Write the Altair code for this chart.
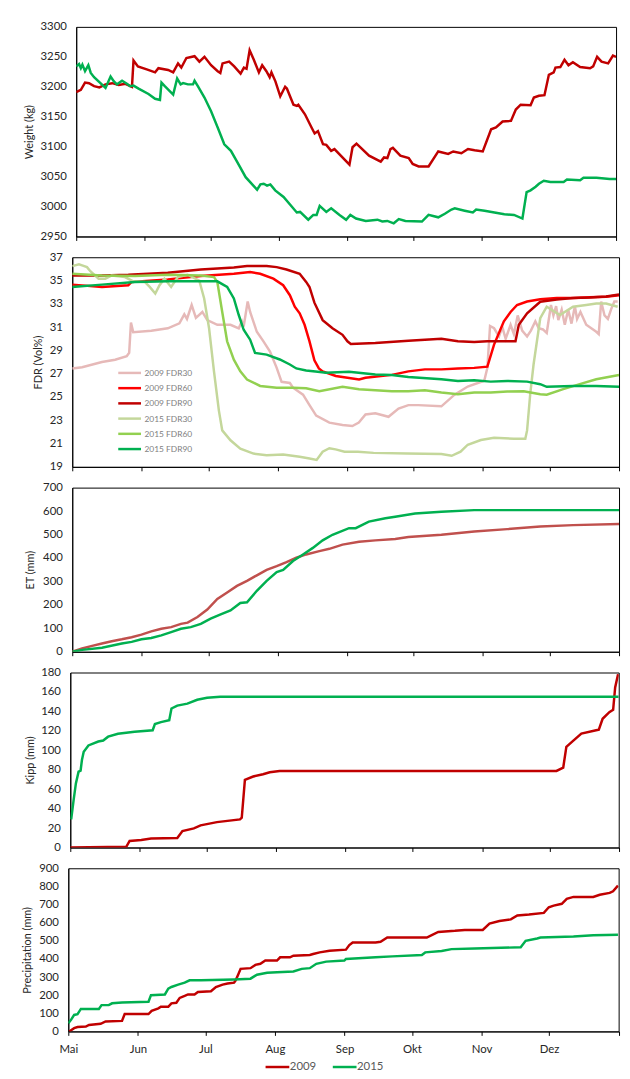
import altair as alt
import pandas as pd

# ---------------- axis categories ----------------
MONTHS = ["Mai", "Jun", "Jul", "Aug", "Sep", "Okt", "Nov", "Dez"]
MONTH_START = [0, 31, 61, 92, 123, 153, 184, 214]   # day offset from 1 May
SEASON_DAYS = 245

# ---------------- Weight (kg) ----------------
weight_2009 = [(0, 3191), (2.1, 3195), (4.0, 3207), (5.8, 3206), (8.1, 3201), (10.5, 3199), (13.3, 3204),
               (16.3, 3206), (19.3, 3203), (22.3, 3205), (25.3, 3200), (26.0, 3244), (28.0, 3234), (32.0, 3229),
               (35.8, 3224), (37.3, 3231), (41.7, 3228), (44.0, 3224), (46.2, 3239), (47.7, 3232), (50.0, 3248),
               (53.7, 3251), (55.9, 3242), (58.2, 3250), (61.2, 3236), (64.2, 3226), (65.4, 3223), (66.4, 3239),
               (69.4, 3242), (71.7, 3234), (74.6, 3222), (76.1, 3232), (77.3, 3230), (78.7, 3261), (80.6, 3245),
               (82.9, 3224), (84.4, 3236), (86.3, 3226), (87.8, 3216), (88.6, 3224), (90.4, 3209), (92.6, 3184),
               (94.8, 3200), (95.6, 3197), (98.6, 3170), (100.1, 3168), (100.8, 3170), (103.8, 3154), (106.8, 3132),
               (108.2, 3122), (109.7, 3126), (112.0, 3104), (113.5, 3103), (115.7, 3093), (117.2, 3096), (124.0, 3070),
               (125.4, 3099), (127.2, 3105), (132.9, 3085), (138.2, 3075), (139.7, 3082), (141.2, 3081), (142.6, 3096),
               (143.7, 3098), (147.1, 3085), (150.9, 3081), (152.7, 3071), (155.4, 3067), (159.9, 3067), (164.3, 3092),
               (168.8, 3088), (171.1, 3092), (174.8, 3089), (177.8, 3096), (180.8, 3094), (184.5, 3092), (188.3, 3129),
               (190.5, 3132), (193.5, 3142), (197.3, 3143), (199.5, 3162), (201.7, 3170), (206.2, 3169), (207.7, 3182),
               (210.0, 3185), (212.5, 3186), (214.5, 3220), (216.7, 3224), (217.5, 3232), (219.7, 3233), (221.6, 3245),
               (223.4, 3236), (225.4, 3241), (228.7, 3233), (233.2, 3231), (234.6, 3234), (236.4, 3250), (238.4, 3242),
               (241.4, 3239), (243.6, 3252), (245.0, 3250)]
weight_2015 = [(0, 3234), (1.3, 3238), (2.1, 3231), (2.8, 3237), (4.0, 3226), (5.5, 3236), (6.6, 3223), (8.1, 3216),
               (13.3, 3198), (15.6, 3217), (17.1, 3209), (18.5, 3204), (20.8, 3210), (23.0, 3205), (24.5, 3201),
               (26.0, 3202), (28.3, 3197), (32.8, 3188), (35.8, 3180), (38.0, 3178), (38.7, 3207), (40.2, 3201),
               (44.0, 3187), (45.8, 3214), (47.4, 3204), (48.5, 3206), (50.7, 3204), (53.0, 3204), (53.7, 3210),
               (55.2, 3201), (58.2, 3182), (61.2, 3159), (64.2, 3132), (67.2, 3104), (70.2, 3093), (73.1, 3074),
               (76.9, 3049), (80.6, 3034), (82.1, 3028), (83.6, 3037), (85.1, 3038), (86.6, 3035), (88.1, 3037),
               (90.3, 3027), (94.1, 3016), (97.8, 3000), (100.1, 2990), (101.6, 2991), (105.3, 2978), (107.6, 2986),
               (109.1, 2986), (110.5, 3001), (113.5, 2991), (115.7, 2997), (119.5, 2986), (122.5, 2978), (124.4, 2986),
               (127.0, 2980), (131.4, 2976), (136.7, 2978), (138.9, 2975), (141.2, 2976), (144.1, 2972), (146.4, 2979),
               (149.4, 2976), (156.9, 2975), (159.9, 2986), (164.3, 2982), (167.3, 2988), (170.3, 2995), (171.8, 2997),
               (176.3, 2993), (180.0, 2990), (181.5, 2995), (185.3, 2993), (189.8, 2990), (194.3, 2987), (198.7, 2986),
               (202.5, 2980), (204.4, 3024), (206.2, 3027), (208.5, 3033), (210.0, 3038), (212.2, 3043), (215.2, 3041),
               (221.2, 3041), (222.7, 3045), (228.7, 3044), (230.2, 3048), (236.1, 3048), (242.1, 3046), (245.0, 3046)]

# ---------------- FDR (Vol%) ----------------
fdr_2009_30 = [(0, 27.45), (4.4, 27.56), (13.3, 28.0), (19.2, 28.2), (24.4, 28.5), (25.5, 28.8), (26.3, 31.4),
               (27.3, 30.57), (35.4, 30.68), (42.8, 30.9), (48.0, 31.33), (50.2, 32.1), (51.4, 31.7), (53.5, 32.9),
               (55.4, 31.8), (58.3, 32.3), (60.5, 31.6), (65.0, 31.2), (70.9, 31.2), (74.6, 30.9), (76.0, 31.5),
               (76.8, 31.05), (78.6, 33.2), (79.7, 32.3), (82.7, 30.6), (85.6, 29.8), (88.6, 28.9), (91.6, 27.5),
               (93.8, 26.3), (97.5, 26.2), (98.9, 25.8), (103.4, 25.2), (106.3, 24.3), (109.3, 23.4), (115.2, 22.8),
               (121.1, 22.6), (125.5, 22.5), (128.4, 22.8), (131.4, 23.5), (135.8, 23.6), (141.7, 23.3), (146.2, 24.0),
               (150.6, 24.3), (155.0, 24.3), (165.4, 24.2), (171.3, 25.2), (177.2, 25.9), (184.6, 26.4), (186.0, 27.5),
               (187.2, 31.1), (189.0, 30.9), (191.2, 30.2), (192.7, 31.0), (194.2, 30.0), (196.4, 31.2), (197.9, 30.4),
               (199.6, 32.0), (201.6, 30.7), (203.8, 30.2), (205.5, 30.7), (207.5, 31.5), (209.0, 30.9), (210.9, 30.8),
               (212.6, 30.5), (214.5, 32.9), (215.6, 32.0), (216.8, 32.8), (217.8, 31.6), (219.3, 32.5), (220.7, 31.2),
               (222.2, 32.5), (223.7, 31.3), (225.2, 32.8), (226.2, 31.7), (227.7, 32.3), (230.3, 31.2), (234.8, 30.6),
               (235.9, 30.4), (237.0, 33.2), (238.5, 32.0), (240.0, 31.7), (241.4, 32.5), (242.9, 33.2), (244.4, 33.2)]
fdr_2009_60 = [(0, 34.65), (13.3, 34.45), (25.1, 34.6), (26.6, 34.88), (42.8, 35.1), (57.6, 35.39), (72.4, 35.58),
               (79.7, 35.73), (84.2, 35.58), (90.1, 35.16), (94.5, 34.6), (97.5, 33.74), (99.7, 32.75), (101.9, 32.18),
               (104.1, 31.2), (106.3, 29.78), (108.5, 28.15), (110.5, 27.45), (112.2, 27.2), (118.1, 26.8),
               (128.5, 26.5), (131.4, 26.65), (143.2, 26.9), (150.6, 27.2), (158.0, 27.37), (165.4, 27.37),
               (172.8, 27.45), (180.1, 27.5), (186.0, 27.6), (189.0, 29.5), (193.4, 31.5), (196.4, 32.3), (199.3, 32.9),
               (203.8, 33.2), (209.7, 33.4), (217.1, 33.5), (224.4, 33.5), (231.8, 33.57), (239.2, 33.6), (245.0, 33.74)]
fdr_2009_90 = [(0, 35.44), (13.3, 35.44), (25.1, 35.5), (42.8, 35.67), (57.6, 35.95), (72.4, 36.12), (78.3, 36.24),
               (87.1, 36.24), (91.6, 36.15), (96.0, 35.95), (101.9, 35.58), (104.8, 34.88), (106.3, 34.45),
               (108.5, 33.1), (112.2, 31.6), (116.6, 30.9), (121.1, 30.34), (123.3, 29.78), (124.8, 29.55),
               (135.8, 29.64), (150.6, 29.83), (165.4, 30.0), (172.8, 29.78), (180.1, 29.72), (186.0, 29.78),
               (198.6, 29.78), (200.1, 31.2), (203.8, 32.18), (209.7, 33.18), (217.1, 33.37), (224.4, 33.5),
               (231.8, 33.54), (239.2, 33.63), (245.0, 33.8)]
fdr_2015_30 = [(0, 36.24), (3.0, 36.4), (4.4, 36.3), (6.6, 36.15), (8.1, 35.8), (11.8, 35.16), (14.8, 35.16),
               (17.7, 35.44), (23.6, 35.3), (27.3, 34.93), (32.5, 34.88), (34.7, 34.45), (37.2, 33.88), (39.1, 34.6),
               (41.3, 35.16), (44.3, 34.45), (47.3, 35.3), (51.7, 35.5), (56.9, 35.0), (59.1, 33.46), (61.3, 30.9),
               (63.5, 27.2), (65.7, 23.83), (67.2, 22.13), (70.9, 21.28), (75.3, 20.57), (81.2, 20.14), (87.1, 20.0),
               (94.5, 20.06), (101.9, 19.86), (106.3, 19.72), (109.5, 19.6), (112.2, 20.3), (115.2, 20.6),
               (118.0, 20.5), (122.0, 20.3), (128.0, 20.3), (135.0, 20.2), (150.0, 20.15), (165.4, 20.1),
               (170.0, 19.95), (174.0, 20.3), (177.2, 20.9), (183.1, 21.3), (189.0, 21.5), (197.9, 21.42),
               (203.0, 21.42), (203.8, 22.13), (205.2, 25.24), (206.7, 27.79), (209.7, 31.76), (212.6, 32.75),
               (218.5, 32.04), (224.4, 32.75), (230.3, 32.9), (234.8, 33.03), (239.2, 33.03), (244.4, 32.75)]
fdr_2015_60 = [(0, 35.58), (13.3, 35.44), (28.1, 35.39), (42.8, 35.5), (57.6, 35.44), (63.5, 35.3), (65.0, 34.88),
               (67.2, 32.3), (69.4, 29.78), (72.4, 28.2), (75.3, 27.2), (78.3, 26.5), (84.2, 25.95), (91.6, 25.8),
               (98.9, 25.8), (104.8, 25.75), (110.7, 25.5), (121.1, 25.87), (128.5, 25.67), (135.8, 25.58),
               (143.2, 25.5), (150.6, 25.5), (158.0, 25.58), (165.4, 25.38), (172.8, 25.24), (180.1, 25.38),
               (187.5, 25.38), (194.9, 25.47), (202.3, 25.5), (209.7, 25.24), (212.6, 25.19), (220.0, 25.67),
               (227.4, 26.1), (234.8, 26.52), (245.0, 26.89)]
fdr_2015_90 = [(0, 34.45), (13.3, 34.65), (28.1, 34.88), (42.8, 34.93), (57.6, 34.93), (65.0, 34.93), (69.4, 34.45),
               (72.4, 33.46), (74.6, 32.04), (76.8, 30.77), (79.7, 29.92), (81.9, 28.78), (87.1, 28.64), (93.0, 28.22),
               (97.5, 27.79), (100.4, 27.45), (104.8, 27.28), (110.0, 27.17), (113.7, 27.08), (124.0, 27.17),
               (135.8, 26.94), (143.2, 26.89), (150.6, 26.72), (165.4, 26.52), (172.8, 26.38), (180.1, 26.43),
               (187.5, 26.32), (194.9, 26.38), (203.8, 26.32), (209.7, 26.1), (212.6, 25.87), (224.4, 25.95),
               (234.8, 25.95), (245.0, 25.87)]

# ---------------- ET (mm) ----------------
et_2009 = [(0, 0), (4.4, 14), (8.9, 25), (13.3, 35), (17.7, 45), (22.2, 53), (26.6, 62), (31.0, 73), (35.4, 87),
           (39.9, 98), (44.3, 105), (48.7, 119), (51.7, 124), (56.1, 148), (60.5, 180), (65.0, 225), (69.4, 253),
           (73.8, 281), (78.3, 302), (82.7, 326), (87.1, 349), (91.6, 365), (96.0, 382), (100.4, 401), (104.8, 415),
           (110.7, 429), (115.2, 439), (121.1, 457), (128.5, 469), (135.8, 475), (144.7, 481), (150.6, 489),
           (165.4, 499), (180.1, 513), (194.9, 523), (209.7, 534), (224.4, 540), (245.0, 545)]
et_2015 = [(0, 0), (4.4, 8), (13.3, 17), (22.2, 35), (26.6, 42), (31.0, 53), (35.4, 59), (39.9, 70), (44.3, 84),
           (48.7, 98), (53.1, 105), (57.6, 119), (62.0, 141), (66.5, 159), (70.9, 176), (75.3, 208), (78.3, 211),
           (82.7, 260), (87.1, 302), (91.6, 340), (94.5, 349), (98.9, 387), (103.4, 415), (107.8, 443), (112.2, 475),
           (116.6, 499), (124.0, 527), (127.0, 527), (132.9, 555), (140.3, 569), (144.7, 576), (153.6, 590),
           (165.4, 597), (180.1, 604), (245.0, 604)]

# ---------------- Kipp (mm) ----------------
kipp_2009 = [(0, 0), (25.0, 0.7), (26.5, 6.8), (31.7, 7.8), (36.1, 9.2), (47.8, 9.8), (50.1, 17), (55.2, 19.7),
             (58.2, 22.8), (65.5, 26.1), (75.8, 28.9), (76.6, 30.6), (78.0, 69.6), (81.7, 73), (86.1, 75.4),
             (89.1, 77.4), (93.5, 78.8), (217.2, 78.8), (220.2, 82.2), (221.6, 103.6), (224.6, 109.7), (228.3, 117.2),
             (234.9, 120.6), (236.1, 121.2), (237.8, 132.4), (240.8, 139.2), (242.5, 141.6), (243.4, 164.7),
             (244.7, 178.3)]
kipp_2015 = [(0.4, 28.9), (1.5, 49), (2.5, 66), (3.7, 78), (4.6, 79), (5.2, 90), (6.0, 98.5), (8.1, 105), (12.5, 109),
             (14.7, 110), (16.9, 114), (21.3, 117), (28.7, 119), (36.8, 120.6), (37.8, 127), (40.5, 129), (44.2, 131),
             (45.2, 143), (47.8, 146), (52.3, 148), (56.7, 152), (61.1, 154), (67.0, 155), (245.0, 155)]

# ---------------- Precipitation (mm) ----------------
prec_2009 = [(0.4, 0), (2.6, 18), (4.1, 24), (7.8, 27), (9.2, 36), (14.4, 42), (16.6, 55), (23.9, 58), (25.1, 96),
             (35.7, 96), (37.1, 113), (40.1, 127), (41.2, 136), (44.5, 136), (45.9, 155), (48.1, 158), (49.6, 185),
             (51.8, 196), (53.3, 204), (56.2, 204), (57.7, 218), (63.5, 222), (65.7, 245), (68.7, 258), (70.9, 264),
             (73.8, 269), (74.5, 282), (75.6, 313), (76.7, 345), (81.1, 349), (83.3, 367), (85.5, 373), (87.7, 391),
             (92.9, 391), (94.3, 409), (98.7, 409), (100.2, 418), (107.5, 422), (109.0, 427), (111.9, 436),
             (116.3, 445), (123.6, 451), (125.1, 476), (126.6, 491), (136.8, 491), (139.0, 495), (142.0, 518),
             (159.6, 518), (161.8, 531), (164.7, 549), (172.1, 555), (176.5, 560), (184.5, 560), (187.5, 595),
             (191.9, 609), (197.0, 618), (199.9, 640), (205.1, 645), (211.7, 654), (213.9, 685), (216.1, 694),
             (219.7, 704), (221.9, 731), (224.9, 742), (233.7, 742), (236.6, 754), (241.0, 764), (242.5, 773),
             (244.7, 804)]
prec_2015 = [(0, 45), (1.2, 64), (2.6, 91), (4.1, 95), (5.6, 124), (13.6, 124), (14.8, 145), (18.0, 145), (19.5, 155),
             (23.9, 160), (35.7, 164), (36.8, 200), (43.0, 204), (44.5, 236), (45.9, 245), (48.9, 258), (51.8, 269),
             (54.0, 282), (59.1, 282), (73.8, 287), (81.1, 291), (84.0, 313), (88.5, 324), (92.9, 327), (100.2, 331),
             (103.9, 345), (107.5, 349), (110.4, 373), (114.8, 385), (122.9, 391), (123.6, 400), (136.8, 409),
             (144.2, 414), (157.4, 422), (158.9, 436), (166.2, 444), (170.6, 454), (180.9, 458), (201.4, 464),
             (203.6, 500), (208.7, 513), (210.2, 518), (224.9, 524), (233.7, 531), (244.7, 533)]

YEARS = ["2009", "2015"]
FDR_NAMES = ["2009 FDR30", "2009 FDR60", "2009 FDR90", "2015 FDR30", "2015 FDR60", "2015 FDR90"]

YEAR_COLORS = ["#C00000", "#00B050"]
ET_COLORS = ["#C0504D", "#00B050"]
FDR_COLORS = ["#E6B9B8", "#FF0000", "#C00000", "#C4D79B", "#92D050", "#00B050"]

FONT = "Lato"
TXT = "#262626"


def frame(series_list, names):
    rows = []
    for name, pairs in zip(names, series_list):
        for d, v in pairs:
            rows.append({"day": d, "value": v, "series": name})
    return pd.DataFrame(rows)


starts_js = "[" + ",".join(str(s) for s in MONTH_START) + "]"
names_js = "[" + ",".join("'" + m + "'" for m in MONTHS) + "]"
label_expr = (f"indexof({starts_js}, datum.value) >= 0 ? "
              f"{names_js}[indexof({starts_js}, datum.value)] : ''")


def x_enc(show_labels):
    return alt.X(
        "day:Q",
        scale=alt.Scale(domain=[0, SEASON_DAYS], nice=False, zero=False),
        axis=alt.Axis(values=MONTH_START + [SEASON_DAYS], title=None, grid=False, labels=show_labels,
                      ticks=True, tickSize=4, tickColor="black", domainColor="black",
                      labelExpr=label_expr, labelFlush=False, labelFont=FONT, labelFontSize=11.5,
                      labelColor=TXT, labelPadding=8),
    )


def y_enc(title, lo, hi, step, extent):
    return alt.Y(
        "value:Q",
        scale=alt.Scale(domain=[lo, hi], nice=False, zero=False),
        axis=alt.Axis(title=title, values=list(range(lo, hi + 1, step)), format="d", grid=False, ticks=False,
                      labelPadding=10, minExtent=extent, maxExtent=extent, titlePadding=4,
                      titleFont=FONT, titleFontSize=11, titleFontWeight="normal", titleColor=TXT,
                      labelFont=FONT, labelFontSize=11.5, labelColor=TXT, domainColor="black"),
    )


def panel(df, names, colors, ytitle, lo, hi, step, extent, width, height, legend=None, show_x=False):
    return alt.Chart(df).mark_line(strokeWidth=2.5, clip=True).encode(
        x=x_enc(show_x),
        y=y_enc(ytitle, lo, hi, step, extent),
        color=alt.Color("series:N", scale=alt.Scale(domain=names, range=colors), sort=names, legend=legend),
    ).properties(width=width, height=height)


def row(indent, chart):
    # invisible left margin so that each panel starts where it does in the original figure
    gap = alt.Chart(pd.DataFrame({"z": [0]})).mark_text(text="").properties(
        width=indent, height=4, view=alt.ViewBackground(fill="white", stroke="transparent"))
    return alt.hconcat(gap, chart, spacing=0).resolve_scale(color="independent")


p1 = panel(frame([weight_2009, weight_2015], YEARS), YEARS, YEAR_COLORS,
           "Weight (kg)", 2950, 3300, 50, 38, 546, 212)

fdr_legend = alt.Legend(title=None, orient="none", legendX=51, legendY=110, direction="vertical",
                        symbolType="M-2,0H2", symbolSize=132, symbolStrokeWidth=2.5,
                        labelFont=FONT, labelFontSize=8.5, labelColor="#808080", labelOffset=8,
                        rowPadding=3.4, padding=0)
p2 = panel(frame([fdr_2009_30, fdr_2009_60, fdr_2009_90, fdr_2015_30, fdr_2015_60, fdr_2015_90], FDR_NAMES),
           FDR_NAMES, FDR_COLORS, "FDR (Vol%)", 19, 37, 2, 25, 553, 212, legend=fdr_legend)

p3 = panel(frame([et_2009, et_2015], YEARS), YEARS, ET_COLORS,
           "ET (mm)", 0, 700, 100, 33, 553, 166)

p4 = panel(frame([kipp_2009, kipp_2015], YEARS), YEARS, YEAR_COLORS,
           "Kipp (mm)", 0, 180, 20, 31.3, 554.7, 177)

year_legend = alt.Legend(title=None, orient="none", legendX=204, legendY=193.5, direction="horizontal",
                         symbolType="M-2,0H2", symbolSize=144, symbolStrokeWidth=2.5,
                         labelFont=FONT, labelFontSize=11.5, labelColor="#595959", labelOffset=5,
                         columnPadding=11, padding=0)
p5 = panel(frame([prec_2009, prec_2015], YEARS), YEARS, YEAR_COLORS,
           "Precipitation (mm)", 0, 900, 100, 32.7, 556.6, 165, legend=year_legend, show_x=True)

chart = alt.vconcat(
    row(8, p1), row(17, p2), row(9, p3), row(9, p4), row(5, p5),
    spacing=8, bounds="full"
).resolve_scale(
    color="independent"
).properties(
    padding={"left": 5, "top": 6, "right": 2, "bottom": -3},
    background="white",
).configure_view(
    stroke="black", strokeWidth=1
)

chart.save("out.html", embed_options={"renderer": "svg", "actions": False})
